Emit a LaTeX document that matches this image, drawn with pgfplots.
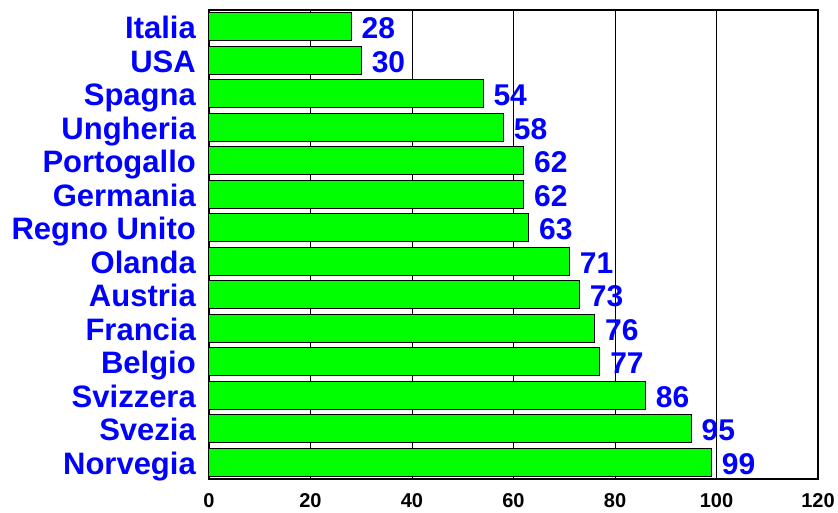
\documentclass[border=0pt]{standalone}
\usepackage{pgfplots}
\pgfplotsset{compat=1.18}
\usepackage{fontspec}
\setmainfont{Liberation Sans}
\definecolor{bargreen}{RGB}{0,255,0}
\definecolor{labblue}{RGB}{0,0,255}

\pgfplotstableread{
y val
0 99
1 95
2 86
3 77
4 76
5 73
6 71
7 63
8 62
9 62
10 58
11 54
12 30
13 28
}\datatable

\begin{document}
\begin{tikzpicture}
  \useasboundingbox (0,0) rectangle (838pt,513pt);
  \begin{axis}[
    at={(209pt,34pt)}, anchor=south west,
    scale only axis,
    width=609pt, height=469pt,
    xmin=0, xmax=120,
    ymin=-0.5, ymax=13.5,
    xbar, bar width=0.836,
    xtick={0,20,...,120},
    ytick={0,...,13},
    yticklabels={Norvegia,Svezia,Svizzera,Belgio,Francia,Austria,Olanda,Regno Unito,Germania,Portogallo,Ungheria,Spagna,USA,Italia},
    xmajorgrids,
    grid style={black, line width=0.7pt},
    axis line style={black, line width=1.2pt},
    major tick length=0pt,
    /pgf/number format/assume math mode=true,
    xticklabel style={font=\fontsize{20}{20}\selectfont\bfseries, text=black, anchor=north, inner sep=0pt, yshift=-14pt},
    yticklabel style={font=\fontsize{31}{31}\selectfont\bfseries, text=labblue, anchor=base east, inner sep=0pt, xshift=-13pt, yshift=-12pt},
    nodes near coords,
    nodes near coords style={font=\fontsize{30}{30}\selectfont\bfseries, text=labblue, anchor=base west, inner sep=0pt, xshift=10pt, yshift=-12pt},
    clip=false,
  ]
    \addplot[fill=bargreen, draw=black, line width=1pt] table[x=val, y=y] {\datatable};
  \end{axis}
\end{tikzpicture}
\end{document}
